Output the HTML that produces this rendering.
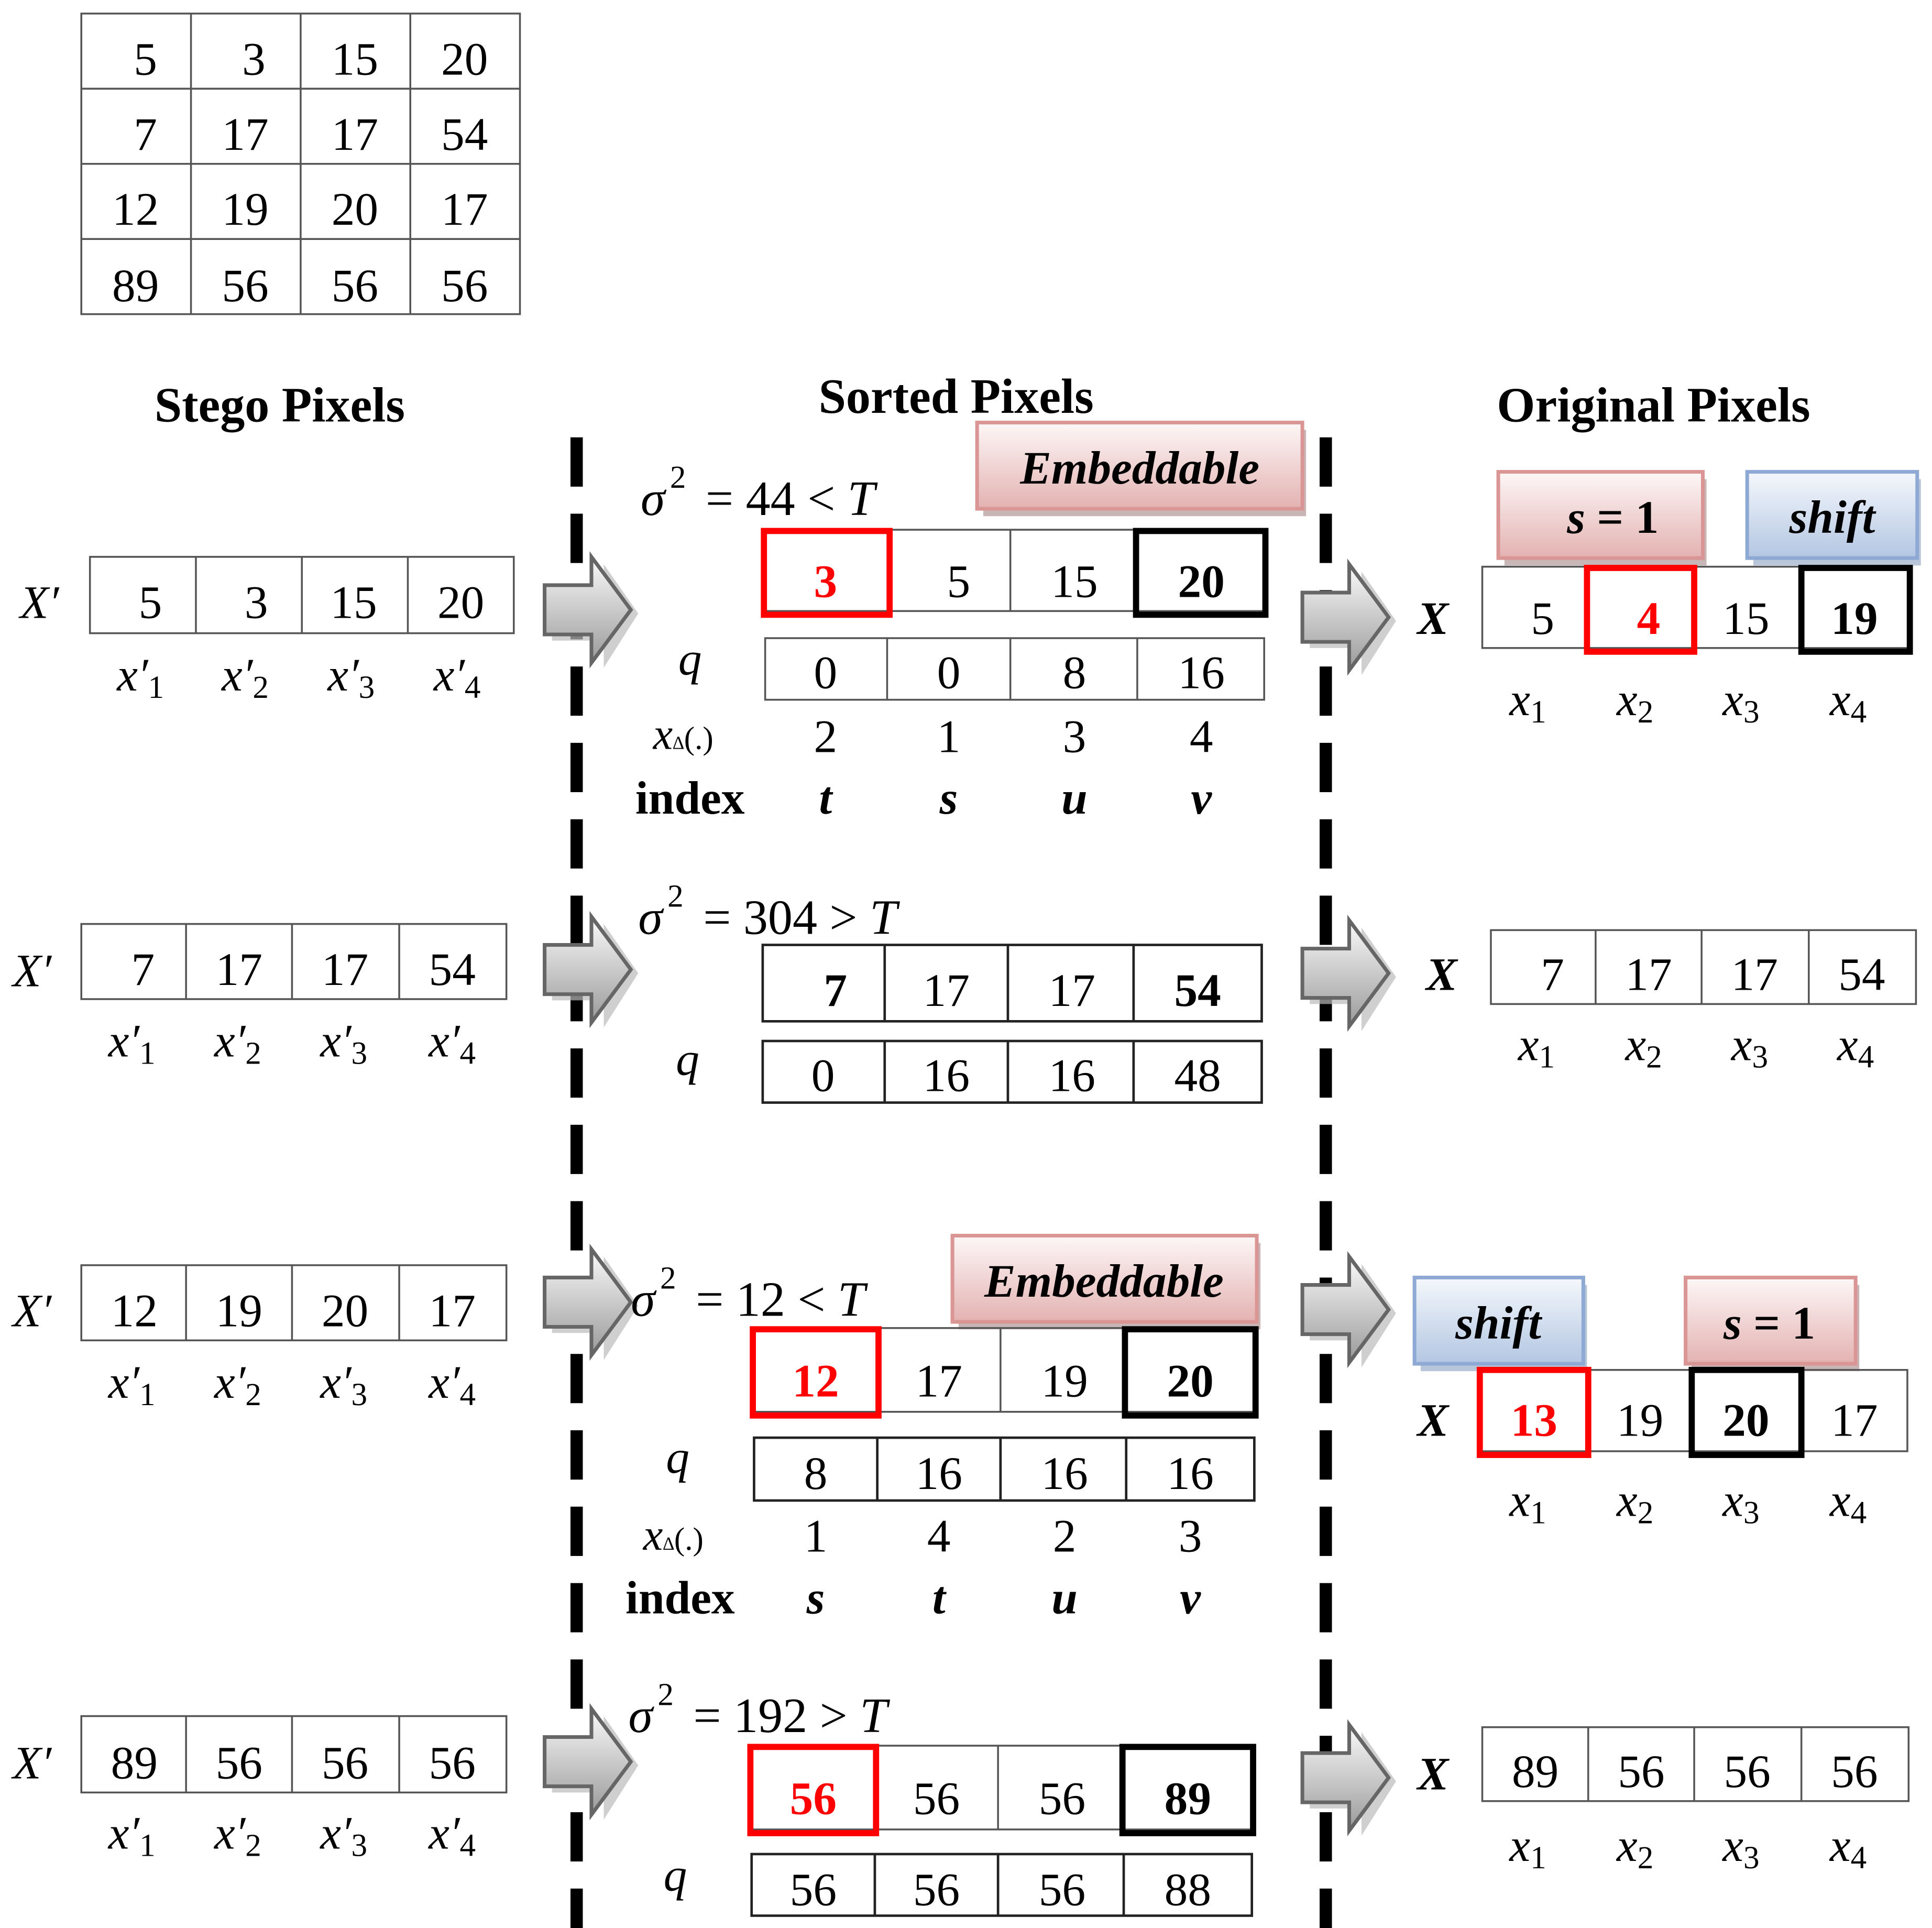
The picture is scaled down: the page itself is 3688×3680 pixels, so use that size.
<!DOCTYPE html>
<html><head><meta charset="utf-8"><style>
html,body{margin:0;padding:0;background:#fff;}
svg{display:block;}
text{font-family:"Liberation Serif",serif;}
</style></head><body>
<svg width="3688" height="3680" viewBox="0 0 1568 1565" preserveAspectRatio="none" xmlns="http://www.w3.org/2000/svg">
<defs>
<linearGradient id="ag" x1="0" y1="0" x2="0" y2="1"><stop offset="0" stop-color="#fafafa"/><stop offset="1" stop-color="#9a9a9a"/></linearGradient>
<linearGradient id="pg" x1="0" y1="0" x2="0" y2="1"><stop offset="0" stop-color="#fdf7f7"/><stop offset="1" stop-color="#e3b2b1"/></linearGradient>
<linearGradient id="bg" x1="0" y1="0" x2="0" y2="1"><stop offset="0" stop-color="#f5f8fc"/><stop offset="1" stop-color="#b3c6e2"/></linearGradient>
<g id="arr">
<path d="M8,30 H50 V8 L78,48 L50,92 V70 H8 Z" fill="#bbb" opacity="0.7"/>
<path d="M2,25 H40 V2 L72,45 L40,88 V65 H2 Z" fill="url(#ag)" stroke="#666" stroke-width="3"/>
</g>
</defs>
<style>
.n{font-size:38px;text-anchor:middle;dominant-baseline:central;}
.b{font-weight:bold;}
.i{font-style:italic;}
.h{font-size:40px;font-weight:bold;text-anchor:middle;dominant-baseline:central;}
.g{fill:none;stroke:#555;stroke-width:1.5;}
</style>

<g class="g"><rect x="66" y="11" width="356" height="244"/>
<line x1="155" y1="11" x2="155" y2="255"/><line x1="244" y1="11" x2="244" y2="255"/><line x1="333" y1="11" x2="333" y2="255"/>
<line x1="66" y1="72" x2="422" y2="72"/><line x1="66" y1="133" x2="422" y2="133"/><line x1="66" y1="194" x2="422" y2="194"/></g>
<text class="n" x="118" y="48">5</text><text class="n" x="206" y="48">3</text><text class="n" x="288" y="48">15</text><text class="n" x="377" y="48">20</text>
<text class="n" x="118" y="109">7</text><text class="n" x="199" y="109">17</text><text class="n" x="288" y="109">17</text><text class="n" x="377" y="109">54</text>
<text class="n" x="110" y="170">12</text><text class="n" x="199" y="170">19</text><text class="n" x="288" y="170">20</text><text class="n" x="377" y="170">17</text>
<text class="n" x="110" y="232">89</text><text class="n" x="199" y="232">56</text><text class="n" x="288" y="232">56</text><text class="n" x="377" y="232">56</text>

<text class="h" x="227" y="329">Stego Pixels</text>
<text class="h" x="776" y="322">Sorted Pixels</text>
<text class="h" x="1342" y="329">Original Pixels</text>

<line x1="468" y1="355" x2="468" y2="1565" stroke="#000" stroke-width="10" stroke-dasharray="40,22"/>
<line x1="1076" y1="355" x2="1076" y2="1565" stroke="#000" stroke-width="10" stroke-dasharray="40,22"/>

<use href="#arr" x="440" y="450"/><use href="#arr" x="1055" y="456"/>
<use href="#arr" x="440" y="742"/><use href="#arr" x="1055" y="745"/>
<use href="#arr" x="440" y="1012"/><use href="#arr" x="1055" y="1018"/>
<use href="#arr" x="440" y="1385"/><use href="#arr" x="1055" y="1398"/>

<!-- ROW 1 -->
<text class="n i" x="32" y="489">X′</text>
<g class="g"><rect x="73" y="452" width="344" height="62"/><line x1="159" y1="452" x2="159" y2="514"/><line x1="245" y1="452" x2="245" y2="514"/><line x1="331" y1="452" x2="331" y2="514"/></g>
<text class="n" x="122" y="489">5</text><text class="n" x="208" y="489">3</text><text class="n" x="287" y="489">15</text><text class="n" x="374" y="489">20</text>
<text class="n i" x="114" y="548">x′<tspan font-style="normal" font-size="26" dy="10">1</tspan></text><text class="n i" x="199" y="548">x′<tspan font-style="normal" font-size="26" dy="10">2</tspan></text><text class="n i" x="285" y="548">x′<tspan font-style="normal" font-size="26" dy="10">3</tspan></text><text class="n i" x="371" y="548">x′<tspan font-style="normal" font-size="26" dy="10">4</tspan></text>

<text x="520" y="418" font-size="40"><tspan font-style="italic">σ</tspan><tspan font-size="26" dx="4" dy="-22">2</tspan><tspan dx="6" dy="22"> = 44 &lt; </tspan><tspan font-style="italic">T</tspan></text>
<rect x="798" y="349" width="262" height="70" fill="#b09595" opacity="0.7"/>
<rect x="793" y="343" width="264" height="70" fill="url(#pg)" stroke="#d99695" stroke-width="3"/>
<text class="n b i" x="925" y="380" font-size="36">Embeddable</text>
<g class="g"><rect x="620" y="430" width="407" height="66"/><line x1="820" y1="430" x2="820" y2="496"/></g>
<rect x="620" y="431" width="102" height="68" fill="none" stroke="#f00" stroke-width="5"/>
<rect x="922" y="431" width="105" height="68" fill="none" stroke="#000" stroke-width="5"/>
<text class="n b" x="670" y="472" fill="#f00">3</text><text class="n" x="778" y="472">5</text><text class="n" x="872" y="472">15</text><text class="n b" x="975" y="472">20</text>
<text class="n i" x="560" y="535">q</text>
<g class="g"><rect x="621" y="518" width="405" height="50"/><line x1="720" y1="518" x2="720" y2="568"/><line x1="820" y1="518" x2="820" y2="568"/><line x1="923" y1="518" x2="923" y2="568"/></g>
<text class="n" x="670" y="546" font-size="34">0</text><text class="n" x="770" y="546" font-size="34">0</text><text class="n" x="872" y="546" font-size="34">8</text><text class="n" x="975" y="546" font-size="34">16</text>
<text x="530" y="608" font-size="36" font-style="italic">x<tspan font-size="15" font-style="normal">∆</tspan><tspan font-size="26" font-style="normal">(.)</tspan></text>
<text class="n" x="670" y="598" font-size="34">2</text><text class="n" x="770" y="598" font-size="34">1</text><text class="n" x="872" y="598" font-size="34">3</text><text class="n" x="975" y="598" font-size="34">4</text>
<text class="n b" x="560" y="648" font-size="31">index</text>
<text class="n b i" x="670" y="648" font-size="32">t</text><text class="n b i" x="770" y="648" font-size="32">s</text><text class="n b i" x="872" y="648" font-size="32">u</text><text class="n b i" x="975" y="648" font-size="32">v</text>

<rect x="1221" y="389" width="164" height="70" fill="#b09595" opacity="0.7"/>
<rect x="1216" y="383" width="166" height="70" fill="url(#pg)" stroke="#d99695" stroke-width="3"/>
<text class="n b" x="1309" y="420" font-size="32"><tspan font-style="italic">s</tspan> = 1</text>
<rect x="1423" y="389" width="136" height="70" fill="#8aa0c0" opacity="0.6"/>
<rect x="1418" y="383" width="138" height="70" fill="url(#bg)" stroke="#8eaad4" stroke-width="3"/>
<text class="n b i" x="1487" y="420" font-size="34">shift</text>
<text class="n b i" x="1163" y="502" font-size="40">X</text>
<g class="g"><rect x="1203" y="460" width="347" height="66"/><line x1="1375" y1="460" x2="1375" y2="526"/></g>
<rect x="1288" y="461" width="87" height="68" fill="none" stroke="#f00" stroke-width="5"/>
<rect x="1462" y="461" width="88" height="68" fill="none" stroke="#000" stroke-width="5"/>
<text class="n" x="1252" y="502">5</text><text class="n b" x="1338" y="502" fill="#f00">4</text><text class="n" x="1417" y="502">15</text><text class="n b" x="1505" y="502">19</text>
<text class="n i" x="1240" y="568">x<tspan font-style="normal" font-size="26" dy="10">1</tspan></text><text class="n i" x="1327" y="568">x<tspan font-style="normal" font-size="26" dy="10">2</tspan></text><text class="n i" x="1413" y="568">x<tspan font-style="normal" font-size="26" dy="10">3</tspan></text><text class="n i" x="1500" y="568">x<tspan font-style="normal" font-size="26" dy="10">4</tspan></text>

<!-- ROW 2 -->
<text class="n i" x="26" y="788">X′</text>
<g class="g"><rect x="66" y="750" width="345" height="61"/><line x1="151" y1="750" x2="151" y2="811"/><line x1="237" y1="750" x2="237" y2="811"/><line x1="324" y1="750" x2="324" y2="811"/></g>
<text class="n" x="116" y="787">7</text><text class="n" x="194" y="787">17</text><text class="n" x="280" y="787">17</text><text class="n" x="367" y="787">54</text>
<text class="n i" x="107" y="845">x′<tspan font-style="normal" font-size="26" dy="10">1</tspan></text><text class="n i" x="193" y="845">x′<tspan font-style="normal" font-size="26" dy="10">2</tspan></text><text class="n i" x="279" y="845">x′<tspan font-style="normal" font-size="26" dy="10">3</tspan></text><text class="n i" x="367" y="845">x′<tspan font-style="normal" font-size="26" dy="10">4</tspan></text>
<text x="518" y="758" font-size="40"><tspan font-style="italic">σ</tspan><tspan font-size="26" dx="4" dy="-22">2</tspan><tspan dx="6" dy="22"> = 304 &gt; </tspan><tspan font-style="italic">T</tspan></text>
<g class="g" style="stroke:#222;stroke-width:2"><rect x="619" y="767" width="405" height="62"/><line x1="718" y1="767" x2="718" y2="829"/><line x1="818" y1="767" x2="818" y2="829"/><line x1="920" y1="767" x2="920" y2="829"/></g>
<text class="n b" x="678" y="804">7</text><text class="n" x="768" y="804">17</text><text class="n" x="870" y="804">17</text><text class="n b" x="972" y="804">54</text>
<text class="n i" x="558" y="860">q</text>
<g class="g" style="stroke:#222;stroke-width:2"><rect x="619" y="845" width="405" height="50"/><line x1="718" y1="845" x2="718" y2="895"/><line x1="818" y1="845" x2="818" y2="895"/><line x1="920" y1="845" x2="920" y2="895"/></g>
<text class="n" x="668" y="873" font-size="34">0</text><text class="n" x="768" y="873" font-size="34">16</text><text class="n" x="870" y="873" font-size="34">16</text><text class="n" x="972" y="873" font-size="34">48</text>
<text class="n b i" x="1170" y="791" font-size="40">X</text>
<g class="g"><rect x="1210" y="755" width="345" height="60"/><line x1="1295" y1="755" x2="1295" y2="815"/><line x1="1381" y1="755" x2="1381" y2="815"/><line x1="1468" y1="755" x2="1468" y2="815"/></g>
<text class="n" x="1260" y="791">7</text><text class="n" x="1338" y="791">17</text><text class="n" x="1424" y="791">17</text><text class="n" x="1511" y="791">54</text>
<text class="n i" x="1247" y="848">x<tspan font-style="normal" font-size="26" dy="10">1</tspan></text><text class="n i" x="1334" y="848">x<tspan font-style="normal" font-size="26" dy="10">2</tspan></text><text class="n i" x="1420" y="848">x<tspan font-style="normal" font-size="26" dy="10">3</tspan></text><text class="n i" x="1506" y="848">x<tspan font-style="normal" font-size="26" dy="10">4</tspan></text>

<!-- ROW 3 -->
<text class="n i" x="26" y="1064">X′</text>
<g class="g"><rect x="66" y="1027" width="345" height="61"/><line x1="151" y1="1027" x2="151" y2="1088"/><line x1="237" y1="1027" x2="237" y2="1088"/><line x1="324" y1="1027" x2="324" y2="1088"/></g>
<text class="n" x="109" y="1064">12</text><text class="n" x="194" y="1064">19</text><text class="n" x="280" y="1064">20</text><text class="n" x="367" y="1064">17</text>
<text class="n i" x="107" y="1122">x′<tspan font-style="normal" font-size="26" dy="10">1</tspan></text><text class="n i" x="193" y="1122">x′<tspan font-style="normal" font-size="26" dy="10">2</tspan></text><text class="n i" x="279" y="1122">x′<tspan font-style="normal" font-size="26" dy="10">3</tspan></text><text class="n i" x="367" y="1122">x′<tspan font-style="normal" font-size="26" dy="10">4</tspan></text>
<text x="512" y="1068" font-size="40"><tspan font-style="italic">σ</tspan><tspan font-size="26" dx="4" dy="-22">2</tspan><tspan dx="6" dy="22"> = 12 &lt; </tspan><tspan font-style="italic">T</tspan></text>
<rect x="778" y="1009" width="245" height="70" fill="#b09595" opacity="0.7"/>
<rect x="773" y="1003" width="247" height="70" fill="url(#pg)" stroke="#d99695" stroke-width="3"/>
<text class="n b i" x="896" y="1040" font-size="36">Embeddable</text>
<g class="g"><rect x="611" y="1078" width="408" height="68"/><line x1="812" y1="1078" x2="812" y2="1146"/></g>
<rect x="611" y="1079" width="102" height="70" fill="none" stroke="#f00" stroke-width="5"/>
<rect x="913" y="1079" width="106" height="70" fill="none" stroke="#000" stroke-width="5"/>
<text class="n b" x="662" y="1121" fill="#f00">12</text><text class="n" x="762" y="1121">17</text><text class="n" x="864" y="1121">19</text><text class="n b" x="966" y="1121">20</text>
<text class="n i" x="550" y="1183">q</text>
<g class="g" style="stroke:#222;stroke-width:2"><rect x="612" y="1167" width="406" height="51"/><line x1="712" y1="1167" x2="712" y2="1218"/><line x1="812" y1="1167" x2="812" y2="1218"/><line x1="914" y1="1167" x2="914" y2="1218"/></g>
<text class="n" x="662" y="1196" font-size="34">8</text><text class="n" x="762" y="1196" font-size="34">16</text><text class="n" x="864" y="1196" font-size="34">16</text><text class="n" x="966" y="1196" font-size="34">16</text>
<text x="522" y="1258" font-size="36" font-style="italic">x<tspan font-size="15" font-style="normal">∆</tspan><tspan font-size="26" font-style="normal">(.)</tspan></text>
<text class="n" x="662" y="1247" font-size="34">1</text><text class="n" x="762" y="1247" font-size="34">4</text><text class="n" x="864" y="1247" font-size="34">2</text><text class="n" x="966" y="1247" font-size="34">3</text>
<text class="n b" x="552" y="1297" font-size="31">index</text>
<text class="n b i" x="662" y="1297" font-size="32">s</text><text class="n b i" x="762" y="1297" font-size="32">t</text><text class="n b i" x="864" y="1297" font-size="32">u</text><text class="n b i" x="966" y="1297" font-size="32">v</text>

<rect x="1153" y="1043" width="135" height="70" fill="#8aa0c0" opacity="0.6"/>
<rect x="1148" y="1037" width="137" height="70" fill="url(#bg)" stroke="#8eaad4" stroke-width="3"/>
<text class="n b i" x="1216" y="1074" font-size="34">shift</text>
<rect x="1373" y="1043" width="136" height="70" fill="#b09595" opacity="0.7"/>
<rect x="1368" y="1037" width="138" height="70" fill="url(#pg)" stroke="#d99695" stroke-width="3"/>
<text class="n b" x="1436" y="1074" font-size="32"><tspan font-style="italic">s</tspan> = 1</text>
<text class="n b i" x="1163" y="1153" font-size="40">X</text>
<g class="g"><rect x="1200" y="1112" width="348" height="66"/><line x1="1373" y1="1112" x2="1373" y2="1178"/></g>
<rect x="1201" y="1112" width="88" height="69" fill="none" stroke="#f00" stroke-width="5"/>
<rect x="1373" y="1112" width="89" height="69" fill="none" stroke="#000" stroke-width="5"/>
<text class="n b" x="1245" y="1153" fill="#f00">13</text><text class="n" x="1331" y="1153">19</text><text class="n b" x="1417" y="1153">20</text><text class="n" x="1505" y="1153">17</text>
<text class="n i" x="1240" y="1218">x<tspan font-style="normal" font-size="26" dy="10">1</tspan></text><text class="n i" x="1327" y="1218">x<tspan font-style="normal" font-size="26" dy="10">2</tspan></text><text class="n i" x="1413" y="1218">x<tspan font-style="normal" font-size="26" dy="10">3</tspan></text><text class="n i" x="1500" y="1218">x<tspan font-style="normal" font-size="26" dy="10">4</tspan></text>

<!-- ROW 4 -->
<text class="n i" x="26" y="1431">X′</text>
<g class="g"><rect x="66" y="1393" width="345" height="62"/><line x1="151" y1="1393" x2="151" y2="1455"/><line x1="237" y1="1393" x2="237" y2="1455"/><line x1="324" y1="1393" x2="324" y2="1455"/></g>
<text class="n" x="109" y="1431">89</text><text class="n" x="194" y="1431">56</text><text class="n" x="280" y="1431">56</text><text class="n" x="367" y="1431">56</text>
<text class="n i" x="107" y="1488">x′<tspan font-style="normal" font-size="26" dy="10">1</tspan></text><text class="n i" x="193" y="1488">x′<tspan font-style="normal" font-size="26" dy="10">2</tspan></text><text class="n i" x="279" y="1488">x′<tspan font-style="normal" font-size="26" dy="10">3</tspan></text><text class="n i" x="367" y="1488">x′<tspan font-style="normal" font-size="26" dy="10">4</tspan></text>
<text x="510" y="1406" font-size="40"><tspan font-style="italic">σ</tspan><tspan font-size="26" dx="4" dy="-22">2</tspan><tspan dx="6" dy="22"> = 192 &gt; </tspan><tspan font-style="italic">T</tspan></text>
<g class="g"><rect x="609" y="1417" width="408" height="68"/><line x1="810" y1="1417" x2="810" y2="1485"/></g>
<rect x="609" y="1418" width="102" height="70" fill="none" stroke="#f00" stroke-width="5"/>
<rect x="911" y="1418" width="106" height="70" fill="none" stroke="#000" stroke-width="5"/>
<text class="n b" x="660" y="1460" fill="#f00">56</text><text class="n" x="760" y="1460">56</text><text class="n" x="862" y="1460">56</text><text class="n b" x="964" y="1460">89</text>
<text class="n i" x="548" y="1522">q</text>
<g class="g" style="stroke:#222;stroke-width:2"><rect x="610" y="1505" width="406" height="50"/><line x1="710" y1="1505" x2="710" y2="1555"/><line x1="810" y1="1505" x2="810" y2="1555"/><line x1="912" y1="1505" x2="912" y2="1555"/></g>
<text class="n" x="660" y="1534" font-size="34">56</text><text class="n" x="760" y="1534" font-size="34">56</text><text class="n" x="862" y="1534" font-size="34">56</text><text class="n" x="964" y="1534" font-size="34">88</text>
<text class="n b i" x="1163" y="1440" font-size="40">X</text>
<g class="g"><rect x="1203" y="1402" width="346" height="60"/><line x1="1289" y1="1402" x2="1289" y2="1462"/><line x1="1375" y1="1402" x2="1375" y2="1462"/><line x1="1462" y1="1402" x2="1462" y2="1462"/></g>
<text class="n" x="1246" y="1438">89</text><text class="n" x="1332" y="1438">56</text><text class="n" x="1418" y="1438">56</text><text class="n" x="1505" y="1438">56</text>
<text class="n i" x="1240" y="1498">x<tspan font-style="normal" font-size="26" dy="10">1</tspan></text><text class="n i" x="1327" y="1498">x<tspan font-style="normal" font-size="26" dy="10">2</tspan></text><text class="n i" x="1413" y="1498">x<tspan font-style="normal" font-size="26" dy="10">3</tspan></text><text class="n i" x="1500" y="1498">x<tspan font-style="normal" font-size="26" dy="10">4</tspan></text>
</svg>
</body></html>
